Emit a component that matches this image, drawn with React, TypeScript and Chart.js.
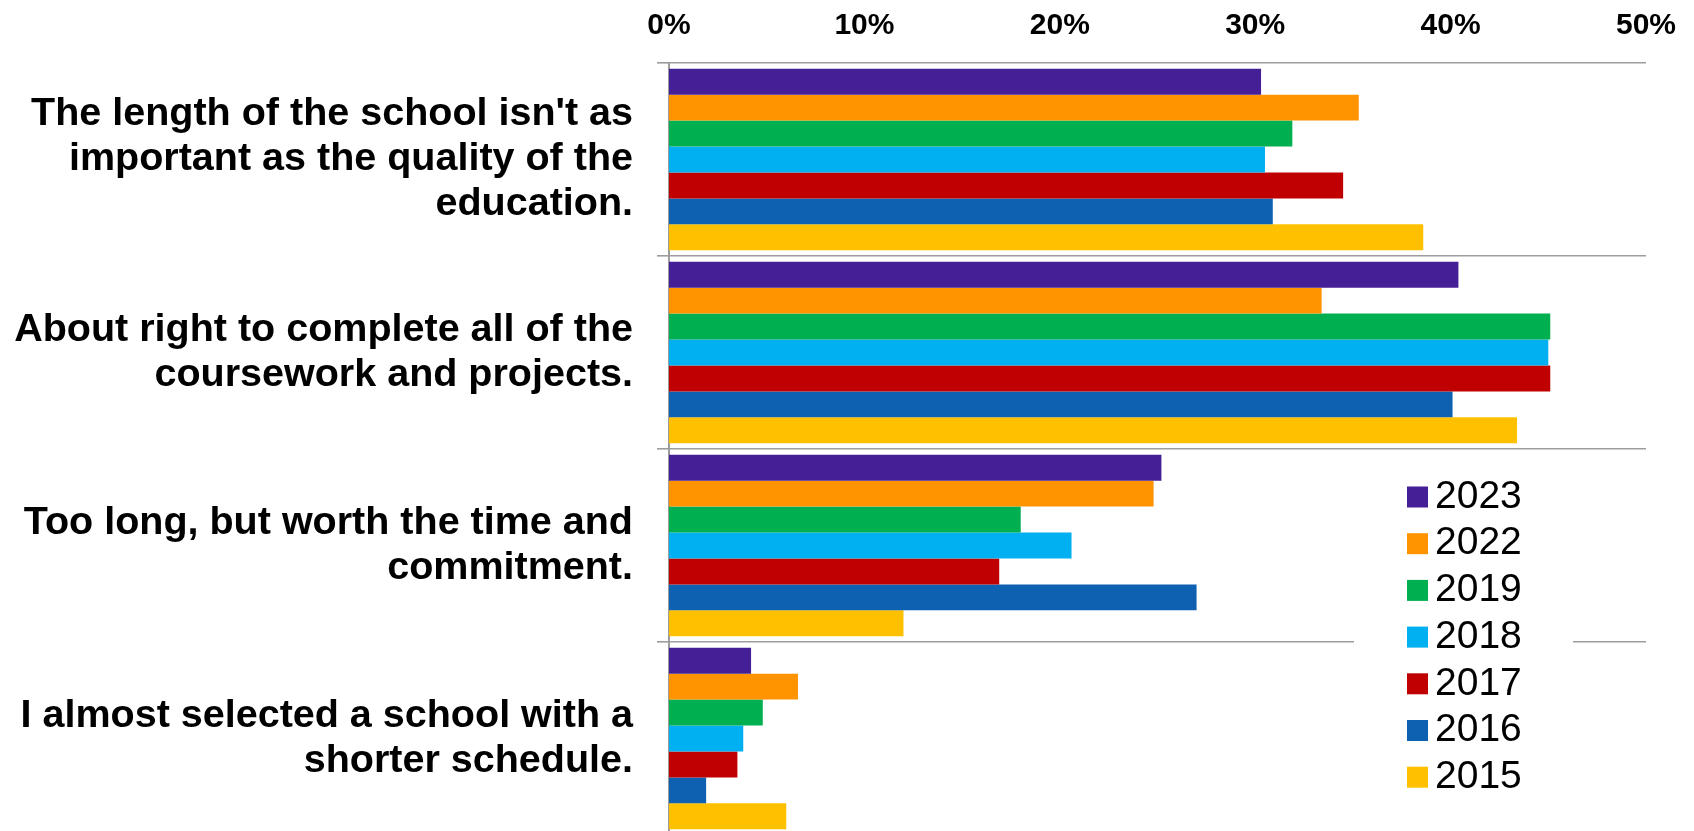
import React, { useEffect, useRef } from 'react';
import { Chart, registerables } from 'chart.js';

Chart.register(...registerables);

const categories: string[][] = [
  ["The length of the school isn't as", 'important as the quality of the', 'education.'],
  ['About right to complete all of the', 'coursework and projects.'],
  ['Too long, but worth the time and', 'commitment.'],
  ['I almost selected a school with a', 'shorter schedule.'],
];

const years = ['2023', '2022', '2019', '2018', '2017', '2016', '2015'];
const yearColors = ['#441f96', '#ff9300', '#00b050', '#00b0f0', '#c00000', '#0d61b0', '#ffc000'];

const values2023 = [30.3, 40.4, 25.2, 4.2];
const values2022 = [35.3, 33.4, 24.8, 6.6];
const values2019 = [31.9, 45.1, 18.0, 4.8];
const values2018 = [30.5, 45.0, 20.6, 3.8];
const values2017 = [34.5, 45.1, 16.9, 3.5];
const values2016 = [30.9, 40.1, 27.0, 1.9];
const values2015 = [38.6, 43.4, 12.0, 6.0];

const seriesValues = [values2023, values2022, values2019, values2018, values2017, values2016, values2015];

const xMin = 0;
const xMax = 50;
const xStep = 10;

const FONT = "'Liberation Sans', Arial, Helvetica, sans-serif";
const GRID = '#9d9d9d';

const legendPlugin = {
  id: 'boxLegend',
  afterDraw(chart: any) {
    const { ctx, chartArea } = chart;
    const boxLeft = chartArea.right - 292;
    ctx.save();
    ctx.fillStyle = '#ffffff';
    ctx.fillRect(boxLeft, chartArea.top + 400, 219, 360);
    const sq = 21;
    const sqX = chartArea.right - 239;
    const textX = chartArea.right - 211;
    const y0 = chartArea.top + 434;
    const step = 46.7;
    ctx.font = `39px ${FONT}`;
    ctx.textBaseline = 'middle';
    ctx.textAlign = 'left';
    chart.data.datasets.forEach((ds: any, i: number) => {
      const cy = y0 + i * step;
      ctx.fillStyle = ds.backgroundColor;
      ctx.fillRect(sqX, cy - sq / 2, sq, sq);
      ctx.fillStyle = '#000000';
      ctx.fillText(ds.label, textX, cy);
    });
    ctx.restore();
  },
};

export default function App() {
  const canvasRef = useRef<HTMLCanvasElement | null>(null);

  useEffect(() => {
    if (!canvasRef.current) return;
    const chart = new Chart(canvasRef.current, {
      type: 'bar',
      data: {
        labels: categories,
        datasets: years.map((y, i) => ({
          label: y,
          data: seriesValues[i],
          backgroundColor: yearColors[i],
          borderWidth: 0,
          categoryPercentage: 0.94,
          barPercentage: 1.0,
        })),
      },
      options: {
        indexAxis: 'y',
        responsive: false,
        animation: false,
        devicePixelRatio: 1,
        layout: { padding: { top: 0, left: 0, right: 48, bottom: 0 } },
        plugins: {
          legend: { display: false },
          tooltip: { enabled: false },
          title: { display: false },
        },
        scales: {
          x: {
            type: 'linear',
            position: 'top',
            min: xMin,
            max: xMax,
            grid: { display: false, drawTicks: false },
            border: { display: false },
            ticks: {
              stepSize: xStep,
              padding: 19,
              color: '#000000',
              font: { family: FONT, size: 30, weight: 'bold' },
              callback: (v: any) => `${v}%`,
            },
            afterFit: (scale: any) => {
              scale.height = 63;
              scale.paddingLeft = 0;
              scale.paddingRight = 0;
            },
          },
          y: {
            type: 'category',
            offset: true,
            grid: {
              offset: true,
              color: GRID,
              lineWidth: 1.6,
              drawTicks: true,
              tickLength: 12,
            },
            border: { display: true, color: GRID, width: 2 },
            ticks: {
              padding: 24,
              color: '#000000',
              font: { family: FONT, size: 39.5, weight: 'bold', lineHeight: 1.14 },
            },
            afterFit: (scale: any) => {
              scale.width = 669;
              scale.paddingTop = 0;
              scale.paddingBottom = 0;
            },
          },
        },
      },
      plugins: [legendPlugin],
    } as any);
    return () => chart.destroy();
  }, []);

  return (
    <div style={{ position: 'fixed', left: 0, top: 0, width: 1694, height: 835, background: '#fff' }}>
      <canvas ref={canvasRef} width={1694} height={835} style={{ display: 'block' }} />
    </div>
  );
}
